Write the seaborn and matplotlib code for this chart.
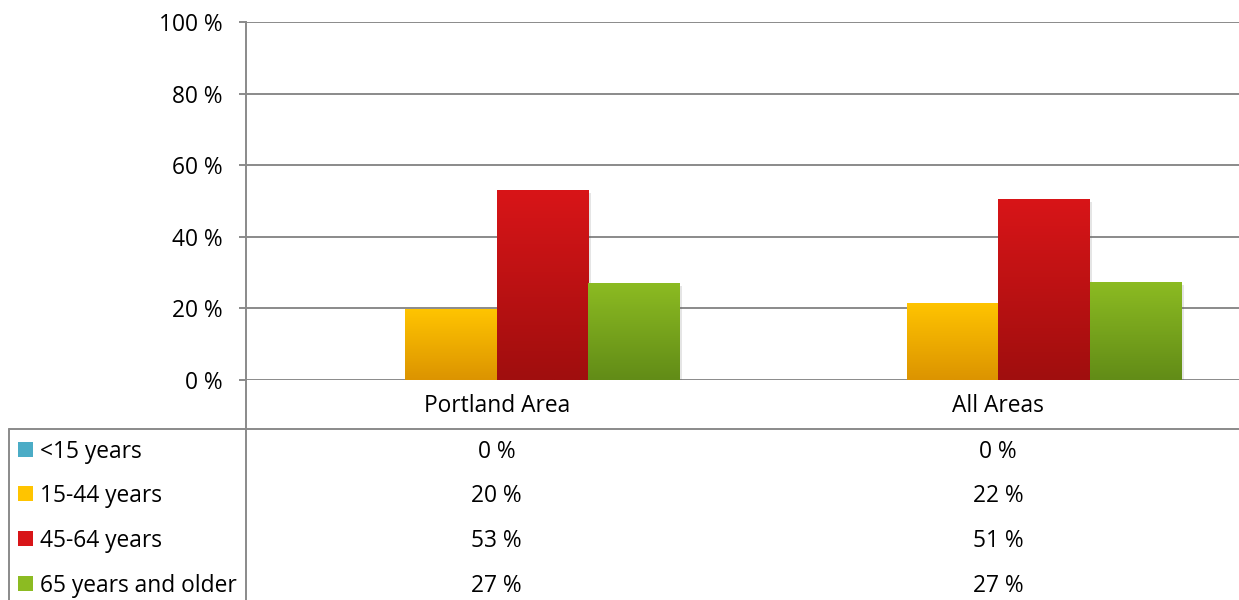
import matplotlib
matplotlib.use("Agg")
import matplotlib.pyplot as plt
import matplotlib.patheffects as pe
from matplotlib.colors import LinearSegmentedColormap
from matplotlib.lines import Line2D
from matplotlib.patches import Rectangle
from matplotlib.transforms import blended_transform_factory
import seaborn as sns
import pandas as pd
import numpy as np

# data
areas = ["Portland Area", "All Areas"]
age_groups = ["<15 years", "15-44 years", "45-64 years", "65 years and older"]
under_15 = [0.0, 0.0]
age_15_44 = [19.8, 21.6]
age_45_64 = [53.1, 50.6]
age_65_up = [27.1, 27.4]
y_ticks = [0, 20, 40, 60, 80, 100]

# gradient colours (top, bottom) per age group
grad_colors = {
    "<15 years": ("#4BACC6", "#2B7F94"),
    "15-44 years": ("#FFC400", "#DC9400"),
    "45-64 years": ("#D81518", "#A00E0E"),
    "65 years and older": ("#8CBB22", "#628C17"),
}

df = pd.DataFrame({
    "area": areas * 4,
    "group": [g for g in age_groups for _ in areas],
    "value": under_15 + age_15_44 + age_45_64 + age_65_up,
})

sns.set_style("white")
plt.rcParams["font.family"] = ["Open Sans", "DejaVu Sans"]
plt.rcParams["text.color"] = "black"
plt.rcParams["xtick.color"] = "black"
plt.rcParams["ytick.color"] = "black"
FS = 16.4
GRID = "#8A8A8A"

fig = plt.figure(figsize=(12.39, 6), dpi=100)
W, H = 1239, 600
ax = fig.add_axes([246 / W, 1 - 380 / H, (1249 - 246) / W, (380 - 22) / H])

palette = {g: grad_colors[g][0] for g in age_groups}
sns.barplot(data=df, x="area", y="value", hue="group", hue_order=age_groups,
            order=areas, palette=palette, width=0.728, linewidth=0,
            legend=False, ax=ax, zorder=2)

ax.set_ylim(0, 100)
ax.set_xlim(-0.5, 1.5)
ax.set_yticks(y_ticks)
ax.set_yticklabels([f"{t} %" for t in y_ticks], fontsize=FS)
ax.yaxis.grid(True, color=GRID, lw=1.4)
ax.set_axisbelow(True)
ax.set_xlabel("")
ax.set_ylabel("")
ax.tick_params(axis="y", length=5, width=1.4, color=GRID, labelcolor="black", pad=12, left=True)
ax.tick_params(axis="x", length=0, pad=10, labelsize=FS, labelcolor="black")
for s in ["top", "right", "bottom"]:
    ax.spines[s].set_visible(False)
ax.spines["left"].set_color(GRID)
ax.spines["left"].set_linewidth(1.4)

# gradient fill for the bars, plus a soft shadow
hue_for_patch = [g for g in age_groups for _ in areas]
for patch, g in zip(ax.patches, hue_for_patch):
    x0, y0 = patch.get_x(), patch.get_y()
    w, h = patch.get_width(), patch.get_height()
    if h <= 0:
        continue
    patch.set_path_effects([pe.SimplePatchShadow(offset=(2, -2), alpha=0.15, shadow_rgbFace="#555555"), pe.Normal()])
    cmap = LinearSegmentedColormap.from_list(g, [grad_colors[g][1], grad_colors[g][0]])
    grad = np.linspace(0, 1, 64).reshape(-1, 1)
    im = ax.imshow(grad, cmap=cmap, aspect="auto", origin="lower",
                   extent=[x0, x0 + w, y0, y0 + h], zorder=3)
    im.set_clip_path(patch)
ax.set_xlim(-0.5, 1.5)
ax.set_ylim(0, 100)

# data table below the chart
tr = blended_transform_factory(ax.transData, fig.transFigure)
fig.add_artist(Line2D([9 / W, 1], [1 - 429 / H] * 2, transform=fig.transFigure, color=GRID, lw=1.4))
fig.add_artist(Line2D([246 / W] * 2, [0, 1 - 380 / H], transform=fig.transFigure, color=GRID, lw=1.4))
fig.add_artist(Line2D([9 / W] * 2, [0, 1 - 429 / H], transform=fig.transFigure, color=GRID, lw=1.4))

row_y = [452, 496, 541, 586]
series = [under_15, age_15_44, age_45_64, age_65_up]
for g, vals, yp in zip(age_groups, series, row_y):
    yf = 1 - yp / H
    fig.add_artist(Rectangle((18 / W, 1 - (yp + 5) / H), 15 / W, 15 / H,
                             transform=fig.transFigure,
                             color=grad_colors[g][0], lw=0))
    fig.text(40 / W, yf, g, fontsize=FS, va="center", ha="left", color="black")
    for i, v in enumerate(vals):
        ax.text(i, yf, f"{round(v)} %", transform=tr, fontsize=FS,
                ha="center", va="center", clip_on=False, color="black")

fig.savefig("out.png", dpi=100)
